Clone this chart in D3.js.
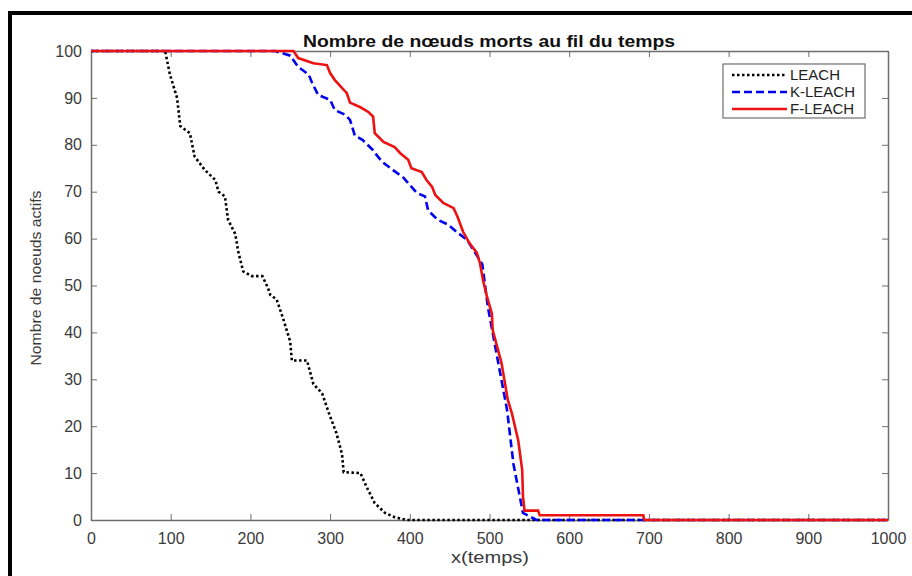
<!DOCTYPE html>
<html>
<head>
<meta charset="utf-8">
<script src="https://cdn.jsdelivr.net/npm/d3@7"></script>
<style>
	body { margin: 0; background: #fff; }
	svg { display: block; font-family: "Liberation Sans", Arial, sans-serif; }
	.axis path, .axis line { stroke: #6e6e6e; }
	.axis text { fill: #3a3a3a; font-size: 16px; }
</style>
</head>
<body>
<svg id="chart" width="912" height="576"></svg>
<script>
// LEACH (dotted black) - time / alive nodes
var leachT = [0, 93, 99, 108, 112, 124, 130, 143, 156, 160, 168, 172, 181, 185, 191, 202, 215, 222, 225, 233, 241, 250, 252, 271, 279, 290, 298, 308, 315, 317, 338, 346, 356, 369, 381, 396, 1000];
var leachN = [100, 100, 95, 90, 84, 82.5, 77.5, 74.6, 72.5, 70, 69, 64, 61, 57, 53, 52, 52, 49.5, 48, 47, 43, 38, 34, 34, 29, 27, 23, 18.5, 14, 10.2, 10, 7, 3.6, 1.5, 0.6, 0, 0];

// K-LEACH (dashed blue)
var kleachT = [0, 231, 250, 260, 273, 277, 285, 300, 306, 319, 325, 331, 341, 353, 365, 379, 392, 409, 419, 423, 435, 448, 459, 472, 482, 491, 498, 511, 522, 530, 538, 542, 559, 1000];
var kleachN = [100, 100, 99, 96.6, 95, 93.4, 90.6, 89.6, 87.4, 86.4, 85.3, 82, 81, 79, 76.4, 74.6, 73, 69.7, 69, 66, 64, 63, 61.4, 59.7, 57, 54.5, 45.4, 33.5, 23.5, 12, 5, 1.5, 0, 0];

// F-LEACH (solid red)
var fleachT = [0, 254, 260, 279, 296, 300, 306, 314, 321, 325, 338, 348, 354, 356, 367, 381, 388, 398, 402, 415, 421, 428, 432, 442, 455, 460, 467, 475, 484, 488, 492, 497, 503, 504, 515, 523, 528, 536, 541, 542, 544, 561, 563, 693, 694, 1000];
var fleachN = [100, 100, 98.5, 97.4, 97, 95.3, 93.8, 92.3, 91, 89, 88, 87, 86, 82.5, 80.6, 79.5, 78.2, 76.8, 75, 74.2, 72.5, 71, 69.3, 67.6, 66.5, 64.6, 61.4, 59, 57, 54.8, 51, 47.5, 44, 40.5, 33.5, 25.6, 22.8, 17, 10.7, 5, 2, 2, 1, 1, 0, 0];

var xTicks = [0, 100, 200, 300, 400, 500, 600, 700, 800, 900, 1000];
var yTicks = [0, 10, 20, 30, 40, 50, 60, 70, 80, 90, 100];

var series = [
	{ name: "LEACH", t: leachT, n: leachN, color: "#000000", dash: "2.5,2.5" },
	{ name: "K-LEACH", t: kleachT, n: kleachN, color: "#0000ee", dash: "8,4" },
	{ name: "F-LEACH", t: fleachT, n: fleachN, color: "#ee1111", dash: null }
];

var svg = d3.select("#chart");
var margin = { top: 51, left: 91 };
var width = 797, height = 469;

// outer frame (only top and left edges visible)
svg.append("path")
	.attr("d", "M10,580V13H915")
	.attr("fill", "none")
	.attr("stroke", "#000")
	.attr("stroke-width", 4);

var g = svg.append("g").attr("transform", "translate(" + margin.left + "," + margin.top + ")");

var x = d3.scaleLinear().domain([0, 1000]).range([0, width]);
var y = d3.scaleLinear().domain([0, 100]).range([height, 0]);

// axes, ticks inward on all four sides
g.append("g").attr("class", "axis")
	.attr("transform", "translate(0," + height + ")")
	.call(d3.axisBottom(x).tickValues(xTicks).tickFormat(d3.format("d")).tickSizeInner(-6).tickSizeOuter(0).tickPadding(13));
g.append("g").attr("class", "axis")
	.call(d3.axisTop(x).tickValues(xTicks).tickSizeInner(-6).tickSizeOuter(0).tickFormat(""));
g.append("g").attr("class", "axis")
	.call(d3.axisLeft(y).tickValues(yTicks).tickSizeInner(-6).tickSizeOuter(0).tickPadding(9));
g.append("g").attr("class", "axis")
	.attr("transform", "translate(" + width + ",0)")
	.call(d3.axisRight(y).tickValues(yTicks).tickSizeInner(-6).tickSizeOuter(0).tickFormat(""));

g.selectAll(".axis path").attr("stroke-width", 1.5);

// curves
var line = d3.line()
	.x(function(d) { return x(d[0]); })
	.y(function(d) { return y(d[1]); });

series.forEach(function(s) {
	var pts = s.t.map(function(t, i) { return [t, s.n[i]]; });
	g.append("path")
		.datum(pts)
		.attr("d", line)
		.attr("fill", "none")
		.attr("stroke", s.color)
		.attr("stroke-width", 2.6)
		.attr("stroke-dasharray", s.dash);
});

// title and labels
svg.append("text")
	.attr("x", 489).attr("y", 47)
	.attr("text-anchor", "middle")
	.attr("font-size", 16.5).attr("font-weight", "bold")
	.attr("fill", "#111")
	.attr("textLength", 372).attr("lengthAdjust", "spacingAndGlyphs")
	.text("Nombre de nœuds morts au fil du temps");

svg.append("text")
	.attr("x", 490).attr("y", 563)
	.attr("text-anchor", "middle")
	.attr("font-size", 17).attr("fill", "#3a3a3a")
	.attr("textLength", 78).attr("lengthAdjust", "spacingAndGlyphs")
	.text("x(temps)");

svg.append("text")
	.attr("transform", "translate(41,278) rotate(-90)")
	.attr("text-anchor", "middle")
	.attr("font-size", 15.5).attr("fill", "#3a3a3a")
	.attr("textLength", 175).attr("lengthAdjust", "spacingAndGlyphs")
	.text("Nombre de noeuds actifs");

// legend
var lg = svg.append("g").attr("transform", "translate(723,64)");
lg.append("rect")
	.attr("width", 142).attr("height", 54)
	.attr("fill", "#fff").attr("stroke", "#6e6e6e").attr("stroke-width", 1.2);
series.forEach(function(s, i) {
	var yy = 11 + i * 17;
	lg.append("line")
		.attr("x1", 9).attr("x2", 64).attr("y1", yy).attr("y2", yy)
		.attr("stroke", s.color).attr("stroke-width", 2.6)
		.attr("stroke-dasharray", s.dash);
	lg.append("text")
		.attr("x", 67).attr("y", yy + 5)
		.attr("font-size", 15).attr("fill", "#222")
		.text(s.name);
});
</script>
</body>
</html>
